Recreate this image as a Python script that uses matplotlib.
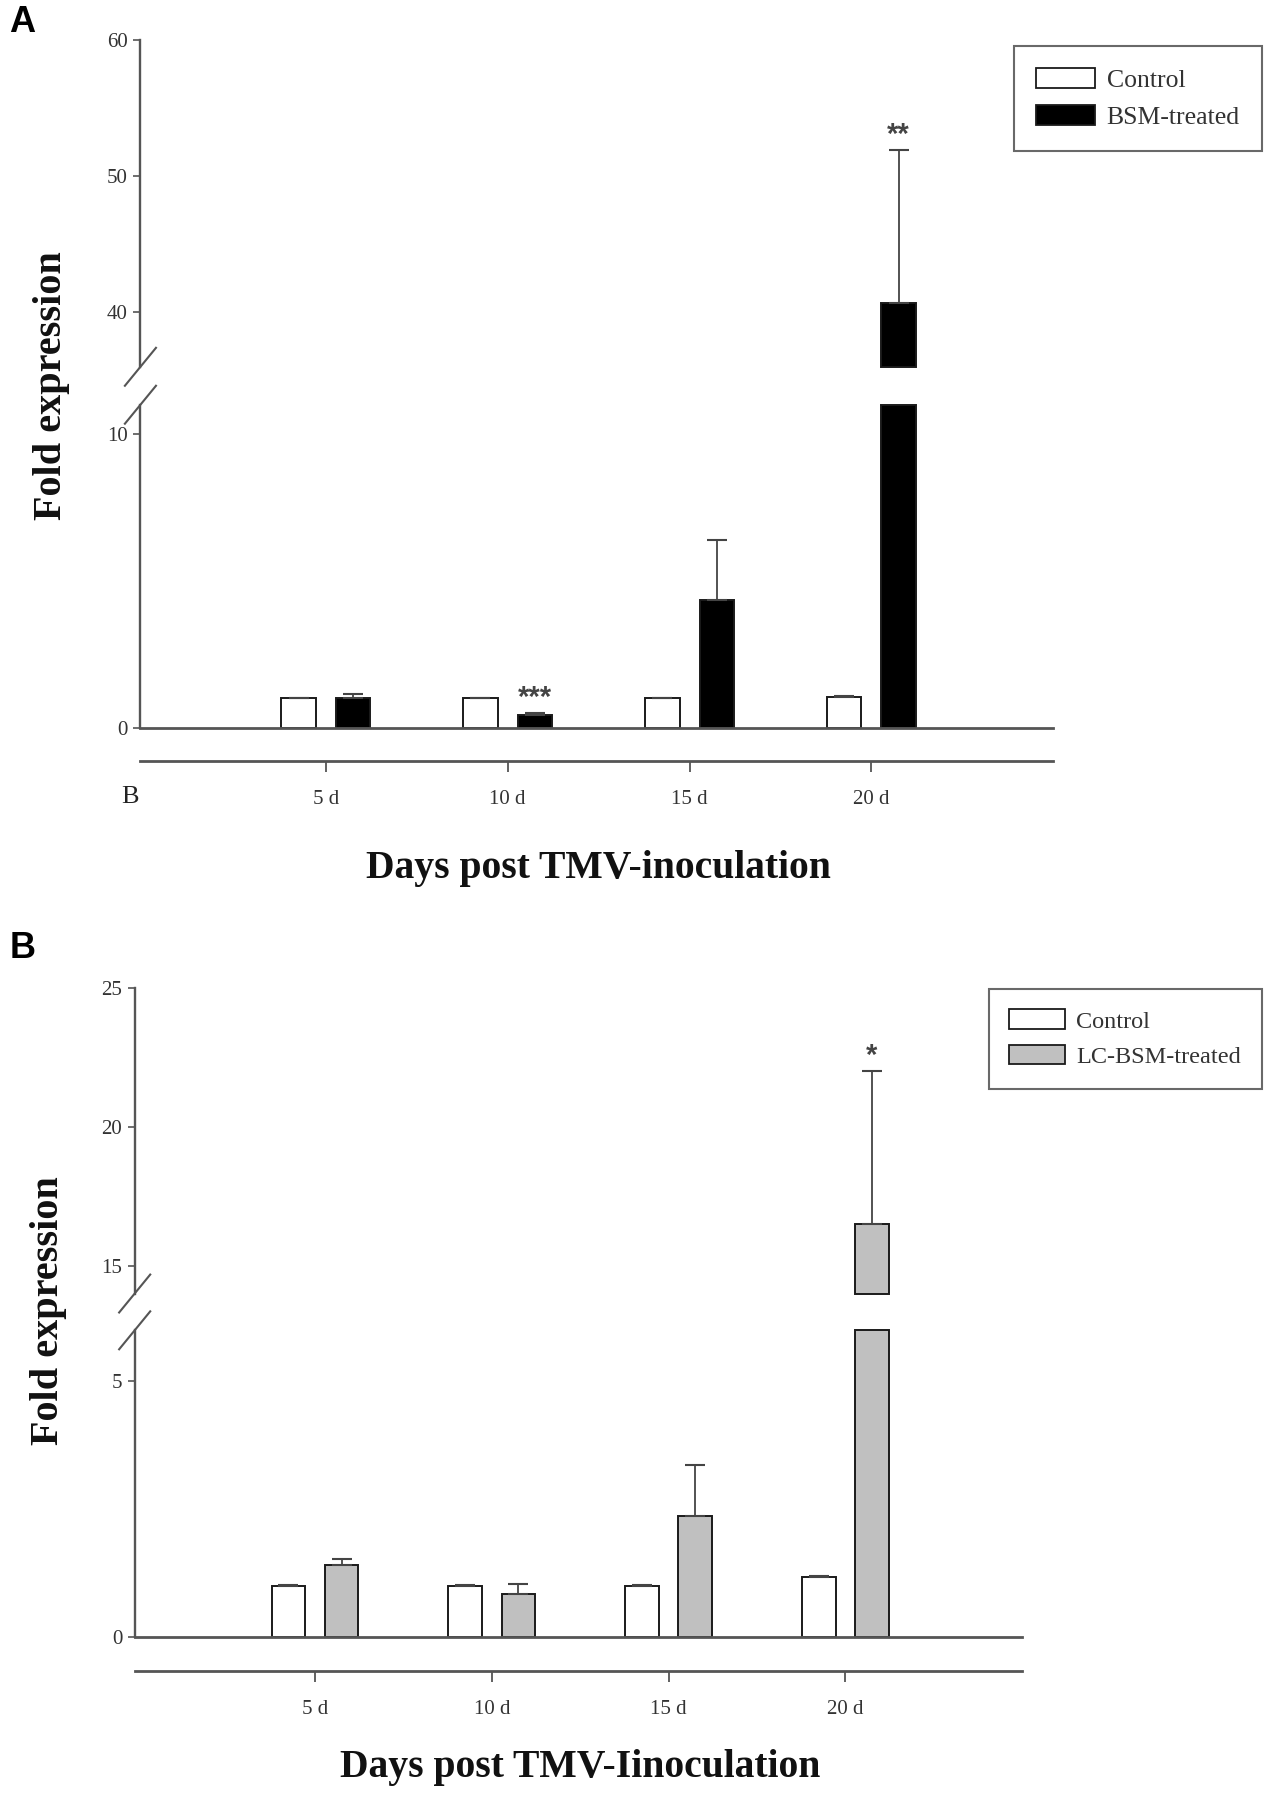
import matplotlib
matplotlib.use('Agg')
import matplotlib.pyplot as plt
from matplotlib.lines import Line2D
from matplotlib.patches import Patch
import numpy as np

# ---------------- data ----------------
days = ['5 d', '10 d', '15 d', '20 d']

a_control = [1.0, 1.0, 1.0, 1.05]
a_control_err = [0.03, 0.03, 0.03, 0.04]
a_treated = [1.0, 0.45, 4.35, 40.7]
a_treated_err = [0.15, 0.06, 2.05, 11.2]
a_stars = ['', '***', '', '**']
a_yticks_low = [0, 10]
a_yticks_high = [40, 50, 60]
a_ylim_low = (0, 11)
a_ylim_high = (36, 60)
a_labels = ['Control', 'BSM-treated']

b_control = [1.0, 1.0, 1.0, 1.17]
b_control_err = [0.02, 0.02, 0.02, 0.03]
b_treated = [1.42, 0.85, 2.37, 16.5]
b_treated_err = [0.12, 0.2, 1.0, 5.5]
b_stars = ['', '', '', '*']
b_yticks_low = [0, 5]
b_yticks_high = [15, 20, 25]
b_ylim_low = (0, 6)
b_ylim_high = (14, 25)
b_labels = ['Control', 'LC-BSM-treated']

# ---------------- layout helpers ----------------
W, H = 1112.0, 1562.0
def fx(x): return x / W
def fy(y): return 1 - y / H

SERIF = 'Liberation Serif'
SANS = 'Liberation Sans'
AX_COL = '#555555'
EDGE = '#1a1a1a'

fig = plt.figure(figsize=(12.8, 17.96), dpi=100)

def slash(xc, yc):
    dx, dy = 13.5, 16.5
    fig.add_artist(Line2D([fx(xc - dx), fx(xc + dx)], [fy(yc + dy), fy(yc - dy)],
                          transform=fig.transFigure, color=AX_COL, lw=1.5))

def panel(left, right, low_b, low_t, up_b, up_t, control, control_err, treated,
          treated_err, stars, yt_low, yt_high, yl_low, yl_high, tcolor, labels,
          leg_anchor, leg_size, xlabel, xlab_pos, ylab_pos):
    w = fx(right) - fx(left)
    ax_lo = fig.add_axes([fx(left), fy(low_b), w, fy(low_t) - fy(low_b)])
    ax_hi = fig.add_axes([fx(left), fy(up_b), w, fy(up_t) - fy(up_b)])
    x = np.arange(len(days))
    bw, off = 0.19, 0.15
    for ax, (lo, hi) in ((ax_lo, yl_low), (ax_hi, yl_high)):
        ax.set_xlim(-1.02, 4.0)
        ax.set_ylim(lo, hi)
        for vals, errs, dx, fc in ((control, control_err, -off, 'white'),
                                   (treated, treated_err, off, tcolor)):
            for xi, v, e in zip(x, vals, errs):
                if v <= lo:
                    continue
                top = min(v, hi)
                ax.bar(xi + dx, top - lo, bw, bottom=lo, color=fc, edgecolor=EDGE,
                       linewidth=1.4, clip_on=False, zorder=2)
                if v <= hi:
                    ax.errorbar(xi + dx, v, yerr=[[0], [e]], fmt='none', ecolor='#444444',
                                elinewidth=1.3, capsize=7, capthick=1.5, zorder=3)
        for s in ('top', 'right'):
            ax.spines[s].set_visible(False)
        ax.spines['left'].set_color(AX_COL)
        ax.spines['left'].set_linewidth(1.7)
        ax.tick_params(axis='y', direction='out', length=5, width=1.2, color=AX_COL,
                       labelsize=15, labelcolor='#333333', pad=4)
    ax_lo.set_yticks(yt_low)
    ax_hi.set_yticks(yt_high)
    for ax in (ax_lo, ax_hi):
        for t in ax.get_yticklabels():
            t.set_fontfamily(SERIF)
    # stars
    for xi, v, e, s in zip(x, treated, treated_err, stars):
        if not s:
            continue
        ax = ax_hi if v > yl_high[0] else ax_lo
        ax.annotate(s, (xi + off, v + e), xytext=(0, 1), textcoords='offset points',
                    ha='center', va='bottom', fontsize=21, color='#444444',
                    fontfamily=SANS, fontweight='bold')
    # upper axes: only left spine
    ax_hi.spines['bottom'].set_visible(False)
    ax_hi.set_xticks([])
    # lower axes: baseline + offset category axis
    ax_lo.axhline(yl_low[0], color=AX_COL, lw=2.0, zorder=4, clip_on=False)
    ax_lo.spines['bottom'].set_position(('outward', 24))
    ax_lo.spines['bottom'].set_color(AX_COL)
    ax_lo.spines['bottom'].set_linewidth(2.0)
    ax_lo.set_xticks(x)
    ax_lo.set_xticklabels(days, fontfamily=SERIF)
    ax_lo.tick_params(axis='x', direction='out', length=8, width=1.3, color=AX_COL,
                      labelsize=15, labelcolor='#333333', pad=13)
    # break marks
    slash(left, up_b)
    slash(left, low_t)
    # legend
    handles = [Patch(facecolor='white', edgecolor=EDGE, linewidth=1.3),
               Patch(facecolor=tcolor, edgecolor=EDGE, linewidth=1.3)]
    leg = fig.legend(handles, labels, loc='upper right',
                     bbox_to_anchor=(fx(leg_anchor[0]), fy(leg_anchor[1])),
                     bbox_transform=fig.transFigure, frameon=True, fancybox=False,
                     edgecolor='#444444', borderpad=0.85, handlelength=2.3,
                     handleheight=0.85, handletextpad=0.45, labelspacing=0.5,
                     borderaxespad=0, prop={'family': SERIF, 'size': leg_size})
    leg.get_frame().set_linewidth(1.5)
    for t in leg.get_texts():
        t.set_color('#333333')
    fig.text(fx(xlab_pos[0]), fy(xlab_pos[1]), xlabel, ha='center', va='center',
             fontsize=28.5, fontweight='bold', fontfamily=SERIF, color='#111111')
    fig.text(fx(ylab_pos[0]), fy(ylab_pos[1]), 'Fold expression', ha='center',
             va='center', rotation=90, fontsize=29, fontweight='bold',
             fontfamily=SERIF, color='#111111')

panel(122, 915, 633, 352, 319, 35, a_control, a_control_err, a_treated, a_treated_err,
      a_stars, a_yticks_low, a_yticks_high, a_ylim_low, a_ylim_high, 'black',
      a_labels, (1096, 40), 18.5, 'Days post TMV-inoculation', (520, 755), (45, 335))

panel(117, 888, 1424, 1157, 1125, 859, b_control, b_control_err, b_treated,
      b_treated_err, b_stars, b_yticks_low, b_yticks_high, b_ylim_low, b_ylim_high,
      '#c0c0c0', b_labels, (1096, 860), 17.5, 'Days post TMV-Iinoculation',
      (504, 1537), (42, 1140))

# panel letters and stray label
fig.text(fx(8), fy(20), 'A', ha='left', va='center', fontsize=26, fontweight='bold',
         fontfamily=SANS)
fig.text(fx(8), fy(825), 'B', ha='left', va='center', fontsize=26, fontweight='bold',
         fontfamily=SANS)
fig.text(fx(113), fy(693), 'B', ha='center', va='center', fontsize=19,
         fontfamily=SERIF, color='#222222')

fig.savefig('out.png', dpi=100)
